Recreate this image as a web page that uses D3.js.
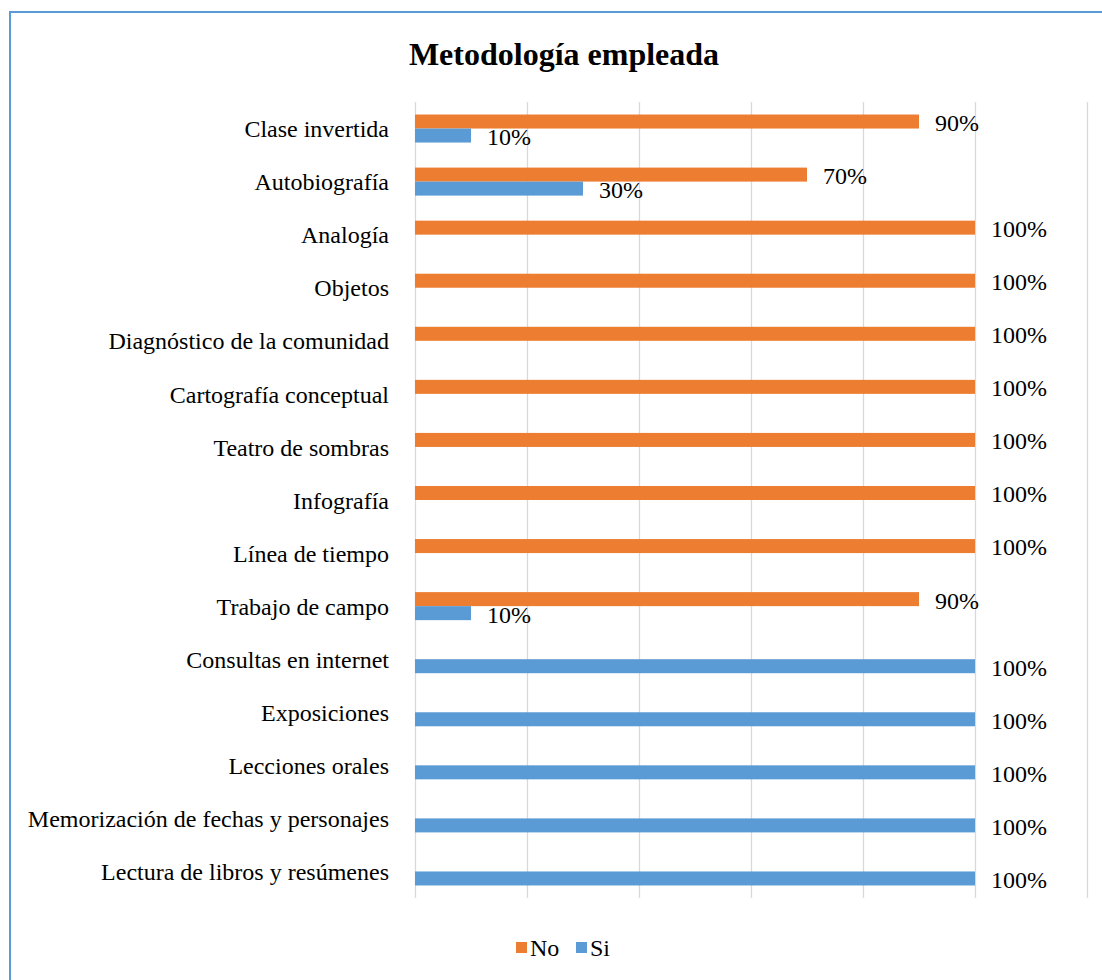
<!DOCTYPE html>
<html>
<head>
<meta charset="utf-8">
<script src="https://cdn.jsdelivr.net/npm/d3@7"></script>
</head>
<body style="margin:0;background:#fff;">
<div id="chart"></div>
<script>
var title = "Metodología empleada";

var categories = [
    "Clase invertida",
    "Autobiografía",
    "Analogía",
    "Objetos",
    "Diagnóstico de la comunidad",
    "Cartografía conceptual",
    "Teatro de sombras",
    "Infografía",
    "Línea de tiempo",
    "Trabajo de campo",
    "Consultas en internet",
    "Exposiciones",
    "Lecciones orales",
    "Memorización de fechas y personajes",
    "Lectura de libros y resúmenes"
];
var seriesNames = ["No", "Si"];
var noValues = [0.9, 0.7, 1, 1, 1, 1, 1, 1, 1, 0.9, 0, 0, 0, 0, 0];
var siValues = [0.1, 0.3, 0, 0, 0, 0, 0, 0, 0, 0.1, 1, 1, 1, 1, 1];
var xTicks = [0, 0.2, 0.4, 0.6, 0.8, 1, 1.2];
var colors = {No: "#ED7D31", Si: "#5B9BD5"};

var serifFont = "'Liberation Serif', serif";

//dimensions
var margin = {top: 102, left: 415};
var width = 1087 - margin.left,
    height = 898 - margin.top;

var svg = d3.select("#chart")
    .append("svg")
        .attr("width", 1102)
        .attr("height", 980)
        .style("font-family", serifFont);

//chart border (runs off the right and bottom of the picture)
svg.append("rect")
    .attr("x", 10)
    .attr("y", 12)
    .attr("width", 1200)
    .attr("height", 1200)
    .attr("fill", "none")
    .attr("stroke", "#5B9BD5")
    .attr("stroke-width", 2);

svg.append("text")
    .attr("x", 564)
    .attr("y", 65)
    .attr("text-anchor", "middle")
    .style("font-family", serifFont)
    .style("font-size", "32px")
    .style("font-weight", "bold")
    .text(title);

var g = svg.append("g")
    .attr("transform", "translate(" + margin.left + "," + margin.top + ")");

var data = categories.map(function(c, i) {
    return {cat: c, No: noValues[i], Si: siValues[i]};
});

var x = d3.scaleLinear()
    .domain([0, 1.2])
    .range([0, width]);

var y = d3.scaleBand()
    .domain(categories)
    .range([0, height])
    .padding(0);

var barH = y.bandwidth() * 0.264;
var y1 = d3.scaleBand()
    .domain(seriesNames)
    .range([y.bandwidth() / 2 - barH, y.bandwidth() / 2 + barH]);

//vertical gridlines
g.append("g")
    .call(d3.axisBottom(x)
        .tickValues(xTicks)
        .tickSize(height)
        .tickFormat(""))
    .call(function(a) { a.select(".domain").remove(); })
    .selectAll("line")
        .attr("stroke", "#d9d9d9")
        .attr("stroke-width", 1.3);

//category labels
var yAxis = g.append("g")
    .call(d3.axisLeft(y).tickSize(0).tickPadding(26));
yAxis.attr("font-family", null).attr("font-size", null);
yAxis.select(".domain").remove();
yAxis.selectAll("text")
    .style("font-family", serifFont)
    .style("font-size", "24px")
    .attr("dy", "0.36em");

var rows = g.selectAll(".row")
    .data(data)
    .join("g")
        .attr("class", "row")
        .attr("transform", function(d) { return "translate(0," + y(d.cat) + ")"; });

var bars = rows.selectAll(".bar")
    .data(function(d) { return seriesNames.map(function(s) { return {key: s, value: d[s]}; }); })
    .join("g")
        .attr("class", "bar");

bars.filter(function(d) { return d.value > 0; })
    .append("rect")
        .attr("x", 0)
        .attr("y", function(d) { return y1(d.key); })
        .attr("width", function(d) { return x(d.value); })
        .attr("height", y1.bandwidth())
        .attr("fill", function(d) { return colors[d.key]; });

bars.filter(function(d) { return d.value > 0; })
    .append("text")
        .attr("x", function(d) { return x(d.value) + 16; })
        .attr("y", function(d) { return y1(d.key) + y1.bandwidth() / 2 + 1; })
        .attr("dy", "0.35em")
        .style("font-family", serifFont)
        .style("font-size", "24px")
        .text(function(d) { return d3.format(".0%")(d.value); });

//legend
var legend = svg.append("g")
    .attr("transform", "translate(516,948)");
var items = [
    {key: "No", x: 0},
    {key: "Si", x: 60}
];
var li = legend.selectAll(".legend-item")
    .data(items)
    .join("g")
        .attr("class", "legend-item")
        .attr("transform", function(d) { return "translate(" + d.x + ",0)"; });
li.append("rect")
    .attr("x", 0)
    .attr("y", -6)
    .attr("width", 11)
    .attr("height", 11)
    .attr("fill", function(d) { return colors[d.key]; });
li.append("text")
    .attr("x", 14)
    .attr("y", 0)
    .attr("dy", "0.35em")
    .style("font-family", serifFont)
    .style("font-size", "24px")
    .text(function(d) { return d.key; });
</script>
</body>
</html>
